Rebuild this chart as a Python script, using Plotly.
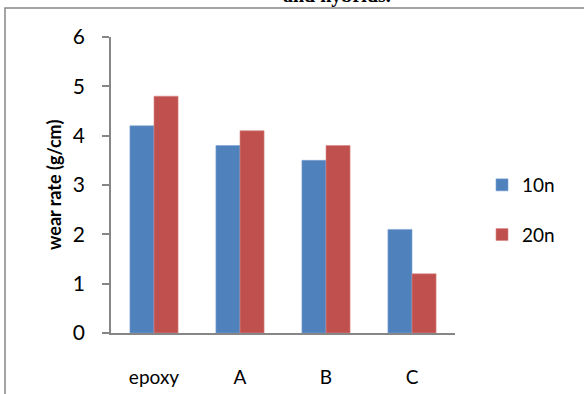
import plotly.graph_objects as go

categories = ["epoxy", "A", "B", "C"]
series_names = ["10n", "20n"]
values_10n = [4.2, 3.8, 3.5, 2.1]
values_20n = [4.8, 4.1, 3.8, 1.2]
y_ticks = [0, 1, 2, 3, 4, 5, 6]

W, H = 584, 394
L, R, T, B = 111, 129, 37, 61
pw, ph = W - L - R, H - T - B

def px_x(x):
    return (x - L) / pw

def px_y(y):
    return (H - B - y) / ph

fig = go.Figure()
fig.add_trace(go.Bar(x=categories, y=values_10n, name=series_names[0],
                     marker=dict(color="#4F81BD", line=dict(color="#7EA3D4", width=0.6)),
                     legendgroup="a"))
fig.add_trace(go.Bar(x=categories, y=values_20n, name=series_names[1],
                     marker=dict(color="#C0504D", line=dict(color="#D98886", width=0.6)),
                     legendgroup="b"))

font_main = "Lato, 'Open Sans', sans-serif"

fig.update_layout(
    width=W, height=H,
    margin=dict(l=L, r=R, t=T, b=B, pad=0, autoexpand=False),
    paper_bgcolor="white", plot_bgcolor="white",
    barmode="group", bargap=0.44, bargroupgap=0.0,
    font=dict(family=font_main, size=18, color="black"),
    showlegend=True,
    legend=dict(x=px_x(482), y=px_y(166), xanchor="left", yanchor="top",
                traceorder="grouped", tracegroupgap=22,
                font=dict(size=19, family=font_main),
                itemwidth=30, bgcolor="rgba(0,0,0,0)"),
    xaxis=dict(showline=True, linecolor="#868686", linewidth=1.5,
               ticks="", showgrid=False, zeroline=False, automargin=False,
               ticklabelstandoff=26, tickfont=dict(size=19)),
    yaxis=dict(range=[0, 6], tickvals=y_ticks, showline=True,
               linecolor="#868686", linewidth=1.5, automargin=False,
               ticks="outside", ticklen=7, tickcolor="#868686", tickwidth=1.5,
               showgrid=False, zeroline=False, ticklabelstandoff=13,
               tickfont=dict(size=21)),
    annotations=[
        dict(text="<b>wear rate (g/cm)</b>", xref="paper", yref="paper",
             x=px_x(54), y=0.5, textangle=-90, showarrow=False,
             xanchor="center", yanchor="middle",
             font=dict(size=18, family=font_main)),
        dict(text="<b>and hybrids.</b>", xref="paper", yref="paper",
             x=px_x(337), y=px_y(9), showarrow=False,
             xanchor="center", yanchor="bottom",
             font=dict(size=20, family="'Liberation Serif', serif")),
    ],
    shapes=[
        dict(type="rect", xref="paper", yref="paper",
             x0=px_x(5), x1=px_x(640), y0=px_y(8), y1=px_y(460),
             line=dict(color="#868686", width=1.5),
             fillcolor="rgba(0,0,0,0)", layer="below"),
    ],
)

fig.write_html("out.html")
